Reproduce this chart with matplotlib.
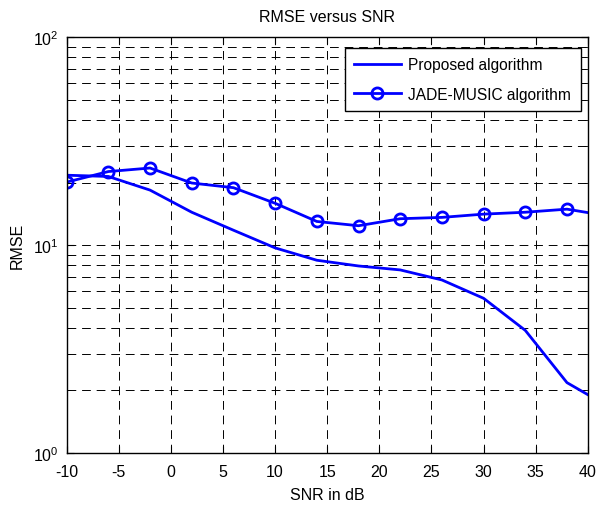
import matplotlib
matplotlib.use('Agg')
import matplotlib.pyplot as plt
from matplotlib.ticker import LogLocator, NullFormatter, FixedLocator

plt.rcParams['font.family'] = ['Liberation Sans', 'DejaVu Sans']
plt.rcParams['mathtext.fontset'] = 'custom'
plt.rcParams['mathtext.rm'] = 'Liberation Sans'
plt.rcParams['axes.unicode_minus'] = False

# data (last point at 42 dB is clipped by the x-range, as in the original)
snr = [-10, -6, -2, 2, 6, 10, 14, 18, 22, 26, 30, 34, 38, 42]
rmse_proposed = [21.7, 21.4, 18.4, 14.4, 11.8, 9.7, 8.46, 7.94, 7.6, 6.8, 5.55, 3.89, 2.18, 1.67]
rmse_jade = [20.1, 22.6, 23.5, 19.9, 18.9, 15.9, 13.0, 12.4, 13.4, 13.6, 14.1, 14.4, 14.9, 13.8]
x_ticks = [-10, -5, 0, 5, 10, 15, 20, 25, 30, 35, 40]

fig = plt.figure(figsize=(6.06, 5.06), dpi=100)
ax = fig.add_axes([0.110, 0.1028, 0.860, 0.8215])

ax.semilogy(snr, rmse_proposed, '-', color='#0000ff', linewidth=2.0,
            label='Proposed algorithm')
ax.semilogy(snr, rmse_jade, '-o', color='#0000ff', linewidth=2.0,
            markersize=8, markerfacecolor='none', markeredgewidth=2.0,
            label='JADE-MUSIC algorithm')

ax.set_xlim(-10, 40)
ax.set_ylim(1, 100)
ax.xaxis.set_major_locator(FixedLocator(x_ticks))
ax.yaxis.set_major_locator(LogLocator(base=10))
ax.yaxis.set_minor_locator(LogLocator(base=10, subs=range(2, 10)))
ax.yaxis.set_minor_formatter(NullFormatter())

dash = (0, (9, 6))
ax.grid(True, which='major', color='k', linestyle=dash, linewidth=0.7)
ax.grid(True, which='minor', axis='y', color='k', linestyle=dash, linewidth=0.7)
ax.tick_params(which='both', direction='in', top=True, right=True, labelsize=11.5)
ax.tick_params(which='major', length=5)
ax.tick_params(which='minor', length=3)
ax.tick_params(axis='x', pad=8)
ax.tick_params(axis='y', pad=6)
for s in ax.spines.values():
    s.set_linewidth(1.0)

ax.set_title('RMSE versus SNR', fontsize=11.5, pad=12)
ax.set_xlabel('SNR in dB', fontsize=11.5, labelpad=6)
ax.set_ylabel('RMSE', fontsize=11.5, labelpad=6)

leg = ax.legend(loc='upper right', bbox_to_anchor=(0.986, 0.975), borderaxespad=0,
                fancybox=False, framealpha=1, edgecolor='k', fontsize=11.2,
                handlelength=3.0, handletextpad=0.5, borderpad=0.6, labelspacing=0.95)
leg.get_frame().set_linewidth(1.0)

fig.savefig('out.png', dpi=100)
